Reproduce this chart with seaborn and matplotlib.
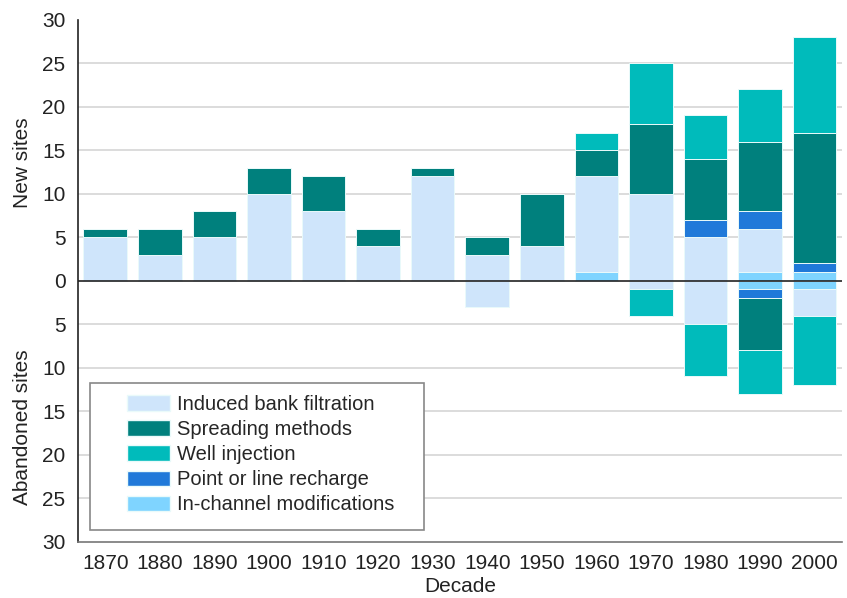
import numpy as np
import pandas as pd
import seaborn as sns
import matplotlib.pyplot as plt
from matplotlib.patches import Patch, Rectangle

# Data (sites per decade)
decades = ["1870", "1880", "1890", "1900", "1910", "1920", "1930",
           "1940", "1950", "1960", "1970", "1980", "1990", "2000"]

# New sites
new_inchannel = [0, 0, 0, 0, 0, 0, 0, 0, 0, 1, 0, 0, 1, 1]
new_ibf = [5, 3, 5, 10, 8, 4, 12, 3, 4, 11, 10, 5, 5, 0]
new_point = [0, 0, 0, 0, 0, 0, 0, 0, 0, 0, 0, 2, 2, 1]
new_spreading = [1, 3, 3, 3, 4, 2, 1, 2, 6, 3, 8, 7, 8, 15]
new_well = [0, 0, 0, 0, 0, 0, 0, 0, 0, 2, 7, 5, 6, 11]

# Abandoned sites
ab_inchannel = [0, 0, 0, 0, 0, 0, 0, 0, 0, 0, 0, 0, 1, 1]
ab_ibf = [0, 0, 0, 0, 0, 0, 0, 3, 0, 0, 1, 5, 0, 3]
ab_point = [0, 0, 0, 0, 0, 0, 0, 0, 0, 0, 0, 0, 1, 0]
ab_spreading = [0, 0, 0, 0, 0, 0, 0, 0, 0, 0, 0, 0, 6, 0]
ab_well = [0, 0, 0, 0, 0, 0, 0, 0, 0, 0, 3, 6, 5, 8]

labels = ["Induced bank filtration", "Spreading methods", "Well injection",
          "Point or line recharge", "In-channel modifications"]
colors = {
    "Induced bank filtration": "#cfe5fb",
    "Spreading methods": "#00807d",
    "Well injection": "#00bbbb",
    "Point or line recharge": "#2079d9",
    "In-channel modifications": "#7fd4ff",
}

# stacking order from the zero line outwards
stack_order = ["In-channel modifications", "Induced bank filtration",
               "Point or line recharge", "Spreading methods", "Well injection"]
new_vals = {
    "In-channel modifications": new_inchannel,
    "Induced bank filtration": new_ibf,
    "Point or line recharge": new_point,
    "Spreading methods": new_spreading,
    "Well injection": new_well,
}
ab_vals = {
    "In-channel modifications": ab_inchannel,
    "Induced bank filtration": ab_ibf,
    "Point or line recharge": ab_point,
    "Spreading methods": ab_spreading,
    "Well injection": ab_well,
}

sns.set_style("white")
plt.rcParams["font.family"] = ["Liberation Sans", "DejaVu Sans"]

fig = plt.figure(figsize=(8.47, 5.98), dpi=100)
ax = fig.add_axes([0.092, 0.094, 0.902, 0.873])

for side, vals, sign in [("new", new_vals, 1), ("ab", ab_vals, -1)]:
    bottom = np.zeros(len(decades))
    for name in stack_order:
        h = sign * np.array(vals[name], dtype=float)
        df = pd.DataFrame({"decade": decades, "count": h})
        sns.barplot(data=df, x="decade", y="count", order=decades,
                    color=colors[name], saturation=1, width=0.8,
                    bottom=bottom, edgecolor="#eafafa", linewidth=0.7,
                    errorbar=None, ax=ax, zorder=2)
        bottom = bottom + h

ax.set_xlim(-0.5, 13.5)
ax.set_ylim(-30, 30)
yt = np.arange(-30, 31, 5)
ax.set_yticks(yt)
ax.set_yticklabels([str(abs(v)) for v in yt], fontsize=15, color="#222222")
ax.tick_params(axis="x", labelsize=15, labelcolor="#222222")
ax.tick_params(axis="both", direction="out", length=5, width=1, color="#777777")
ax.tick_params(axis="y", length=6, color="#555555", pad=3)

for v in yt:
    if v not in (0, -30, 30):
        ax.axhline(v, color="#d9d9d9", linewidth=1.3, zorder=1)
ax.axhline(0, color="#222222", linewidth=1.2, zorder=3)

for s in ["top", "right"]:
    ax.spines[s].set_visible(False)
ax.spines["left"].set_color("#222222")
ax.spines["left"].set_linewidth(1.2)
ax.spines["bottom"].set_color("#777777")
ax.spines["bottom"].set_linewidth(1.2)

ax.set_ylabel("")
ax.set_xlabel("Decade", fontsize=15, color="#222222", labelpad=3)
ax.text(-0.072, 0.726, "New sites", transform=ax.transAxes, rotation=90,
        ha="center", va="center", fontsize=15, color="#222222")
ax.text(-0.072, 0.22, "Abandoned sites", transform=ax.transAxes, rotation=90,
        ha="center", va="center", fontsize=15, color="#222222")

# legend frame drawn separately so the inner padding can match
frame = Rectangle((0.0157, 0.023), 0.437, 0.2816, transform=ax.transAxes,
                  facecolor="white", edgecolor="#888888", linewidth=1.2,
                  zorder=4)
ax.add_patch(frame)
handles = [Patch(facecolor=colors[l], edgecolor="#eafafa", label=l) for l in labels]
leg = ax.legend(handles=handles, loc="upper left",
                bbox_to_anchor=(0.0641, 0.281), frameon=False,
                fontsize=14.5, borderpad=0, borderaxespad=0,
                handlelength=2.15, handleheight=0.8, handletextpad=0.35,
                labelspacing=0.3)
leg.set_zorder(5)

fig.savefig("out.png", dpi=100)
